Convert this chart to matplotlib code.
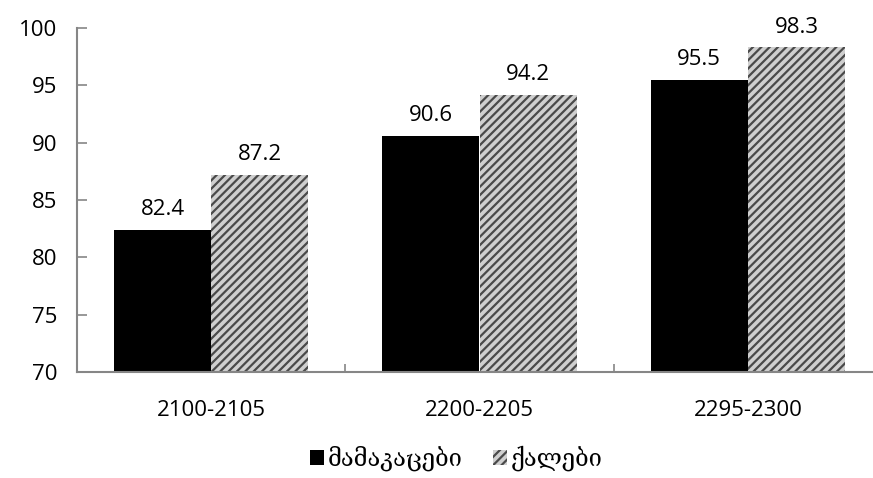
import numpy as np
import matplotlib
matplotlib.use("Agg")
import matplotlib.pyplot as plt

# ── Daten ─────────────────────────────────────────────────────────────────────
kategorien = ["2100-2105", "2200-2205", "2295-2300"]
maenner = [82.4, 90.6, 95.5]
frauen = [87.2, 94.2, 98.3]
serien_namen = ["მამაკაცები", "ქალები"]

plt.rcParams['font.family'] = ['Open Sans', 'DejaVu Sans']
plt.rcParams['hatch.linewidth'] = 1.6

fig = plt.figure(figsize=(8.73, 4.78), dpi=100)
ax = fig.add_axes([77 / 873, 1 - 372 / 478, 805 / 873, 344 / 478])

x = np.arange(len(kategorien))
breite = 0.362
achsen_grau = "#868686"

b1 = ax.bar(x - breite / 2, maenner, breite, color="black", label=serien_namen[0])
b2 = ax.bar(x + breite / 2, frauen, breite, color="#cfcfcf", edgecolor="#4a4a4a",
            linewidth=0, hatch="////", label=serien_namen[1])

for balken, werte in ((b1, maenner), (b2, frauen)):
    for r, w in zip(balken, werte):
        ax.annotate(f"{w:.1f}", (r.get_x() + r.get_width() / 2, w),
                    xytext=(0, 7), textcoords="offset points",
                    ha="center", va="bottom", fontsize=16)

ax.set_ylim(70, 100)
ax.set_yticks(range(70, 101, 5))
ax.set_xlim(-0.5, 2.5)
ax.set_xticks(x)
ax.set_xticklabels(kategorien)
ax.set_xticks([0.5, 1.5, 2.5], minor=True)

for s in ["top", "right"]:
    ax.spines[s].set_visible(False)
for s in ["left", "bottom"]:
    ax.spines[s].set_color(achsen_grau)
    ax.spines[s].set_linewidth(1.5)

ax.tick_params(axis="y", direction="in", length=7, color=achsen_grau,
               width=1.2, labelsize=16, pad=14)
ax.tick_params(axis="x", which="major", length=0, labelsize=16, pad=20)
ax.tick_params(axis="x", which="minor", direction="in", length=6,
               color=achsen_grau, width=1.2)

ax.legend(loc="center", bbox_to_anchor=((456 - 77) / 805, -0.25),
          ncol=2, frameon=False, handlelength=0.6, handleheight=0.6,
          handletextpad=0.15, columnspacing=1.3,
          prop={'family': ['DejaVu Serif', 'DejaVu Sans'], 'size': 17})

plt.savefig("out.png", dpi=100)
